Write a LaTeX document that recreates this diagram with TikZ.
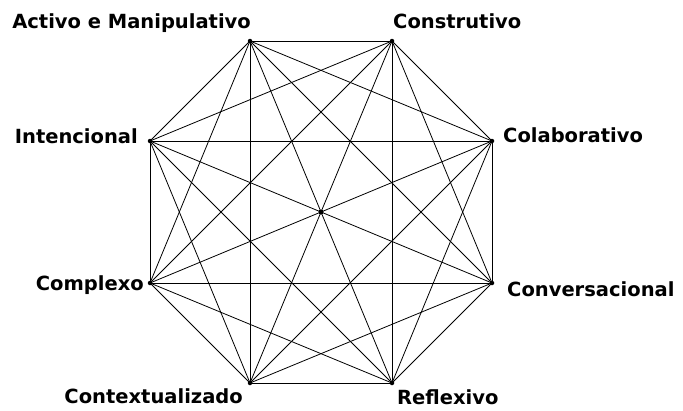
\documentclass[tikz,border=0pt]{standalone}
\usepackage{fontspec}
\newfontfamily\lblfont{DejaVu Sans}
\usepackage{tikz}
\usetikzlibrary{positioning,calc}

\begin{document}
\begin{tikzpicture}[
    x=1pt, y=-1pt,
    vtx/.style={circle, fill=black, inner sep=0pt, minimum size=4.5pt},
    lbl/.style={font=\lblfont\bfseries\fontsize{19.5}{22}\selectfont, inner sep=0pt},
    edge/.style={line width=0.8pt},
  ]
  \useasboundingbox (0,0) rectangle (683,410);

  % Vertices of the octagon
  \foreach \name/\x/\y in {
    act/250/41, cns/392/41, col/492/141, cvs/492/283,
    ref/392/383, ctx/250/383, cpx/150/283, int/150/141%
  } {
    \node[vtx] (\name) at (\x,\y) {};
  }
  \node[vtx, minimum size=5pt] (ctr) at (321,212) {};

  % Labels
  \node[lbl, anchor=base east] (l-act) at (251,28) {Activo e Manipulativo};
  \node[lbl, anchor=base west] (l-cns) at (393,28) {Construtivo};
  \node[lbl, anchor=base west] (l-col) at (503,142) {Colaborativo};
  \node[lbl, anchor=base west] (l-cvs) at (507,296) {Conversacional};
  \node[lbl, anchor=base west] (l-ref) at (397,404) {Reflexivo};
  \node[lbl, anchor=base east] (l-ctx) at (243,403) {Contextualizado};
  \node[lbl, anchor=base east] (l-cpx) at (144,290) {Complexo};
  \node[lbl, anchor=base east] (l-int) at (138,143) {Intencional};

  % Every vertex joined to every other
  \foreach \a/\others in {
    act/{cns,col,cvs,ref,ctx,cpx,int},
    cns/{col,cvs,ref,ctx,cpx,int},
    col/{cvs,ref,ctx,cpx,int},
    cvs/{ref,ctx,cpx,int},
    ref/{ctx,cpx,int},
    ctx/{cpx,int},
    cpx/{int}%
  } {
    \foreach \b in \others
      \draw[edge] (\a.center) -- (\b.center);
  }
\end{tikzpicture}
\end{document}
